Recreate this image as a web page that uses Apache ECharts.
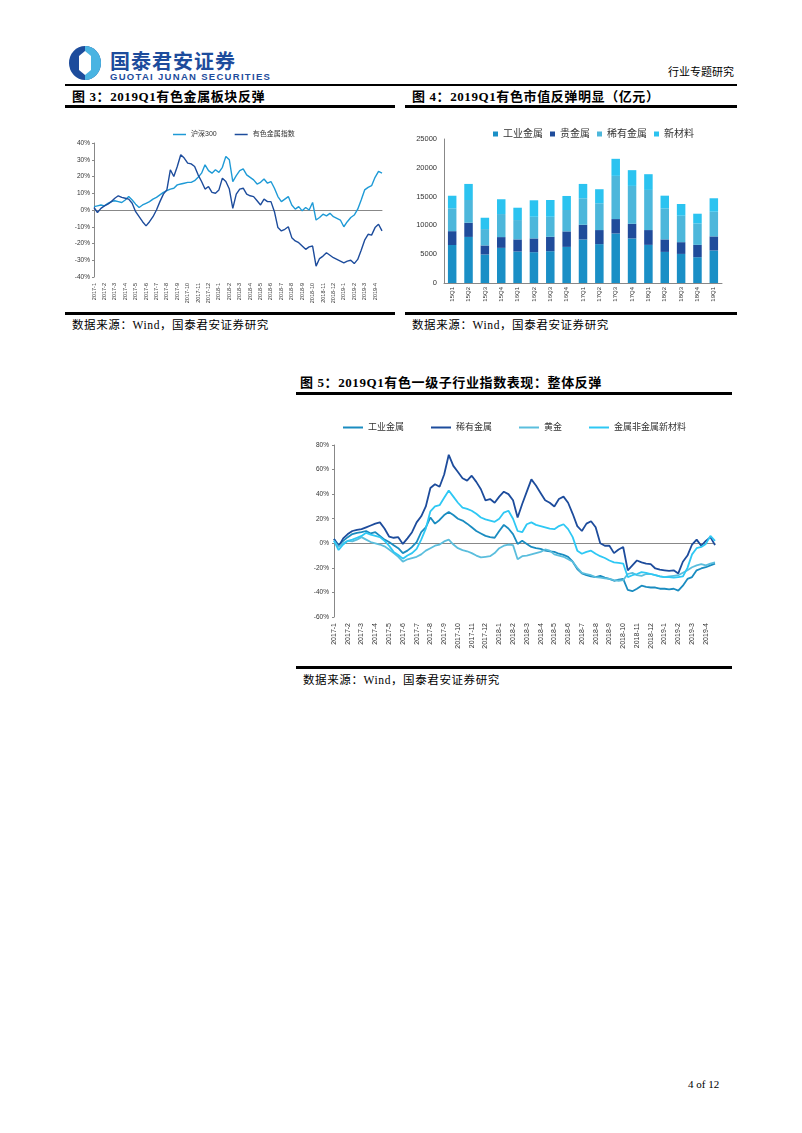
<!DOCTYPE html>
<html>
<head>
<meta charset="utf-8">
<title>有色金属 2019Q1</title>
<script src="https://cdn.jsdelivr.net/npm/echarts@6.0.0/dist/echarts.min.js"></script>
<style>
  body { margin: 0; background: #fff; }
  .page { position: relative; width: 802px; height: 1133px; overflow: hidden;
    font-family: "Liberation Serif", "Noto Sans CJK SC", serif; color: #000; }
  .page div { position: absolute; line-height: 1; white-space: nowrap; }
  .rule { background: #000; height: 2.5px; }
  .title { font-size: 13px; font-weight: bold; letter-spacing: 0.6px; }
  .src { font-size: 11.5px; letter-spacing: 0.6px; }
</style>
</head>
<body>
<div class="page">
  <svg style="position:absolute;left:68px;top:45px" width="34" height="36" viewBox="0 0 34 36">
    <ellipse cx="17" cy="18" rx="16" ry="17" fill="#1D4C9C"/>
    <path d="M17 1 A16 17 0 0 1 17 35 Z" fill="#4AB4E2"/>
    <polygon points="17,6 23,11 23,25 17,30 11,25 11,11" fill="#fff"/>
  </svg>
  <div style="left:110px;top:46px;font:bold 20px 'Noto Sans CJK SC';color:#1D4C9C;letter-spacing:1px;">国泰君安证券</div>
  <div style="left:110px;top:71px;font:bold 9.5px 'Liberation Sans';color:#1D4C9C;letter-spacing:1.3px;">GUOTAI JUNAN SECURITIES</div>
  <div style="left:668px;top:67px;font-size:11px;">行业专题研究</div>
  <div class="rule" style="left:65px;top:84px;width:672px;height:1.5px"></div>

  <div class="title" style="left:72px;top:90px;">图 3：2019Q1有色金属板块反弹</div>
  <div class="title" style="left:412px;top:90px;">图 4：2019Q1有色市值反弹明显（亿元）</div>
  <div class="rule" style="left:65px;top:105px;width:330px"></div>
  <div class="rule" style="left:405px;top:105px;width:332px"></div>

  <div id="chart3" style="left:62px;top:108px;width:336px;height:204px"></div>
  <div id="chart4" style="left:405px;top:108px;width:332px;height:204px"></div>

  <div class="rule" style="left:65px;top:312px;width:330px"></div>
  <div class="rule" style="left:405px;top:312px;width:332px"></div>
  <div class="src" style="left:72px;top:320px;">数据来源：Wind，国泰君安证券研究</div>
  <div class="src" style="left:412px;top:320px;">数据来源：Wind，国泰君安证券研究</div>

  <div class="title" style="left:300px;top:376px;">图 5：2019Q1有色一级子行业指数表现：整体反弹</div>
  <div class="rule" style="left:296px;top:392px;width:436px"></div>
  <div id="chart5" style="left:296px;top:396px;width:436px;height:270px"></div>
  <div class="rule" style="left:296px;top:666px;width:436px"></div>
  <div class="src" style="left:303px;top:675px;">数据来源：Wind，国泰君安证券研究</div>

  <div style="left:688px;top:1079px;font-size:11px;">4 of 12</div>
</div>

<script>
// 日期轴：每月 1、11、21 日各取一个点
var dates = [];
for (var y = 2017; y <= 2019; y++) {
  for (var m = 1; m <= 12; m++) {
    if (y == 2019 && m > 4) break;
    [1, 11, 21].forEach(function (d) { dates.push(y + '-' + m + '-' + d); });
  }
}

// 图3 沪深300 / 有色金属指数（%）
var hs300 = [2.0,2.5,3.0, 2.5,4.0,5.0, 5.5,5.0,4.5, 6.0,8.0,6.0, 3.5,1.5,3.0, 4.0,5.0,6.5,
  7.5,9.0,10.5, 11.5,12.5,13.0, 15.0,15.5,16.0, 16.5,16.5,17.5, 19.5,22.0,27.0, 23.5,22.0,24.0,
  22.5,25.5,32.0, 30.0,17.0,20.5, 23.5,24.5,21.0, 19.5,18.0,15.5, 16.5,18.5,16.0, 17.0,13.0,8.0,
  5.0,6.5,8.0, 3.0,0.5,2.0, -0.5,1.5,0.0, 4.5,-6.0,-4.5, -2.5,-3.5,-2.0, -4.0,-5.0,-6.0,
  -10.0,-7.0,-4.5, -3.0,0.5,6.0, 12.0,13.5,14.5, 19.5,23.0,22.0];
var metalIndex = [1.5,-1.5,1.0, 2.5,3.5,5.0, 7.0,8.5,7.5, 7.0,6.5,4.0, -1.0,-4.0,-7.0, -9.5,-7.0,-4.0,
  0.0,5.0,9.5, 12.0,24.0,20.0, 26.0,33.0,31.0, 28.0,27.5,26.0, 21.0,17.0,12.5, 14.0,10.5,10.0,
  12.0,19.0,17.0, 12.5,1.0,9.5, 12.5,13.0,9.5, 8.5,8.0,5.5, 3.0,6.5,5.0, 5.0,-1.0,-10.5,
  -12.5,-11.5,-10.0, -16.5,-18.5,-19.5, -21.5,-23.5,-22.0, -21.5,-33.5,-29.0, -27.5,-25.5,-27.0, -28.5,-29.5,-30.5,
  -31.5,-30.5,-30.0, -32.0,-29.5,-24.0, -18.0,-14.5,-15.0, -10.5,-8.5,-12.5];

// 图4 市值（亿元）
var quarters = ['15Q1','15Q2','15Q3','15Q4','16Q1','16Q2','16Q3','16Q4','17Q1','17Q2','17Q3','17Q4','18Q1','18Q2','18Q3','18Q4','19Q1'];
var industrialCap = [6600,8000,4950,6100,5470,5350,5520,6270,7560,6750,8600,7740,6620,5400,5050,4480,5650];
var preciousCap = [2400,2460,1570,1870,2100,2390,2500,2690,2550,2440,2500,2540,2570,2170,2040,2140,2440];
var rareCap = [3970,3950,2840,4000,3360,3760,3480,3710,4600,4650,7500,6580,6970,5400,4590,3730,4290];
var newMatCap = [2180,2790,1970,2570,2140,2860,2910,2440,2490,2440,2960,2730,2730,2190,2040,1680,2330];

// 图5 一级子行业指数（%）
var industrialIdx = [3.5,-1.5,2.0, 5.0,7.5,8.5, 9.0,10.0,8.0, 9.0,6.0,3.0, 1.0,-1.5,-4.0, -8.0,-6.0,-3.0,
  1.0,9.0,13.0, 21.0,16.0,19.0, 23.0,25.5,23.0, 20.0,18.5,16.0, 13.0,10.0,8.0, 6.0,5.0,4.5,
  10.0,15.0,12.0, 7.5,-0.5,2.0, -0.5,-3.0,-4.0, -4.5,-6.0,-6.5, -7.0,-8.5,-9.5, -11.0,-15.0,-21.0,
  -24.5,-26.0,-27.0, -27.5,-26.5,-28.0, -29.0,-30.5,-29.5, -29.0,-38.0,-39.0, -37.0,-34.5,-35.5, -36.0,-36.0,-37.0,
  -37.0,-37.5,-37.0, -38.5,-34.5,-29.0, -27.5,-22.0,-20.5, -19.5,-18.0,-16.5];
var rareIdx = [3.5,-2.5,4.0, 7.5,10.0,11.0, 11.5,13.0,14.5, 16.0,17.0,12.0, 5.5,4.5,5.0, -0.5,4.0,9.0,
  17.0,22.0,30.0, 45.0,48.0,46.0, 56.0,72.0,63.0, 58.0,53.0,51.0, 55.0,50.0,44.0, 35.0,36.0,33.0,
  38.0,42.0,40.0, 35.0,21.0,32.0, 42.0,52.0,47.0, 41.0,35.0,33.0, 30.0,36.0,38.0, 33.0,24.0,14.0,
  10.0,16.0,18.0, 13.0,0.0,-2.0, -2.0,-8.0,-5.0, -3.0,-22.0,-18.0, -14.0,-15.5,-16.5, -17.0,-20.5,-21.5,
  -22.0,-22.5,-22.0, -24.5,-15.0,-10.0, -1.0,3.0,-2.0, 2.0,5.0,-1.5];
var goldIdx = [2.0,-3.0,0.0, 2.0,1.5,3.0, 5.0,3.0,1.0, 0.0,-1.0,-2.5, -5.0,-8.0,-11.0, -15.0,-13.0,-12.0,
  -11.0,-9.0,-6.0, -4.0,-2.0,-1.0, 1.5,3.0,-1.0, -4.0,-5.5,-6.5, -8.0,-10.0,-11.5, -11.0,-10.5,-8.0,
  -4.0,-2.0,-1.0, -1.5,-13.0,-10.5, -10.0,-9.0,-8.0, -7.0,-5.0,-6.0, -9.0,-10.0,-11.0, -13.0,-15.0,-20.0,
  -24.0,-25.0,-26.0, -27.5,-28.0,-28.5, -29.0,-30.0,-30.5, -30.0,-25.0,-24.0, -26.0,-26.5,-25.0, -25.0,-26.0,-27.0,
  -27.5,-27.0,-26.5, -26.0,-24.0,-22.0, -19.5,-18.0,-17.0, -18.0,-16.5,-15.5];
var newMatIdx = [2.0,-5.5,-1.0, 2.0,3.0,4.5, 6.0,8.5,7.0, 6.0,5.0,2.0, -2.0,-7.0,-9.5, -12.5,-10.0,-8.0,
  -4.5,3.0,12.0, 26.0,30.0,31.0, 37.0,43.0,38.0, 33.0,29.0,28.0, 26.5,24.0,21.0, 19.5,18.5,17.5,
  20.0,25.0,26.5, 20.0,10.0,9.0, 15.5,17.0,15.0, 14.0,13.0,12.0, 11.5,14.0,15.5, 11.5,5.0,-6.0,
  -8.5,-7.0,-6.0, -8.5,-10.5,-12.0, -14.0,-15.5,-16.0, -16.5,-27.5,-26.0, -25.0,-23.5,-24.0, -25.0,-26.0,-27.0,
  -27.5,-27.5,-28.0, -27.5,-27.0,-20.0, -9.0,-4.0,-3.0, -0.5,6.0,2.0];

var baseFont = 'Liberation Sans, Noto Sans CJK SC, sans-serif';
function isMonthStart(index, value) { return value.split('-')[2] === '1'; }
function monthLabel(value) { var p = value.split('-'); return p[0] + '-' + p[1]; }

// 时间序列折线图的坐标轴（底部月份标签 + 0 轴线）
function timeAxes(fontSize, margin) {
  return [{
    type: 'category', data: dates, boundaryGap: false,
    axisLine: { show: false, onZero: false },
    axisTick: { show: false },
    axisLabel: { interval: isMonthStart, formatter: monthLabel, rotate: 90,
      fontSize: fontSize, color: '#333', margin: margin, fontFamily: baseFont }
  }, {
    type: 'category', data: dates, boundaryGap: false, position: 'bottom',
    axisLine: { onZero: true, lineStyle: { color: '#888', width: 1 } },
    axisTick: { show: false }, axisLabel: { show: false }
  }];
}
function lineSeries(name, data, color, width) {
  return { name: name, type: 'line', data: data, showSymbol: false, symbol: 'none',
    lineStyle: { color: color, width: width }, itemStyle: { color: color } };
}

// 图3
var chart3 = echarts.init(document.getElementById('chart3'));
chart3.setOption({
  animation: false,
  textStyle: { fontFamily: baseFont },
  legend: { left: 106, top: 18, icon: 'rect', itemWidth: 13, itemHeight: 1.5, itemGap: 18,
    textStyle: { fontSize: 7, color: '#333' }, data: ['沪深300', '有色金属指数'] },
  grid: { left: 32, right: 16, top: 35, bottom: 35 },
  xAxis: timeAxes(5.5, 6),
  yAxis: { type: 'value', min: -40, max: 40, interval: 10,
    axisLine: { show: true, lineStyle: { color: '#888' } },
    axisTick: { show: true, length: 2, lineStyle: { color: '#888' } },
    splitLine: { show: false },
    axisLabel: { formatter: '{value}%', fontSize: 6.5, color: '#333', margin: 4 } },
  series: [
    lineSeries('沪深300', hs300, '#1E9AD6', 1.4),
    lineSeries('有色金属指数', metalIndex, '#1D4C9C', 1.4)
  ]
});

// 图4
var chart4 = echarts.init(document.getElementById('chart4'));
function barSeries(name, data, color) {
  return { name: name, type: 'bar', stack: 'cap', data: data, barWidth: '52%',
    itemStyle: { color: color } };
}
chart4.setOption({
  animation: false,
  textStyle: { fontFamily: baseFont },
  legend: { left: 83, top: 16, icon: 'rect', itemWidth: 5, itemHeight: 5, itemGap: 7,
    textStyle: { fontSize: 10, color: '#333' } },
  grid: { left: 39, right: 15, top: 31, bottom: 29 },
  xAxis: { type: 'category', data: quarters,
    axisLine: { lineStyle: { color: '#888' } }, axisTick: { show: false },
    axisLabel: { interval: 0, rotate: 90, fontSize: 6, color: '#333', margin: 4 } },
  yAxis: { type: 'value', min: 0, max: 25000, interval: 5000,
    axisLine: { show: true, lineStyle: { color: '#888' } }, axisTick: { show: false },
    splitLine: { show: false },
    axisLabel: { fontSize: 7.5, color: '#333', margin: 7,
      formatter: function (v) { return String(v); } } },
  series: [
    barSeries('工业金属', industrialCap, '#1A8FC6'),
    barSeries('贵金属', preciousCap, '#1F4C9B'),
    barSeries('稀有金属', rareCap, '#4DB7DB'),
    barSeries('新材料', newMatCap, '#2BC3F0')
  ]
});

// 图5
var chart5 = echarts.init(document.getElementById('chart5'));
chart5.setOption({
  animation: false,
  textStyle: { fontFamily: baseFont },
  legend: { left: 42, top: 22, icon: 'rect', itemWidth: 20, itemHeight: 2, itemGap: 27,
    textStyle: { fontSize: 9, color: '#333' } },
  grid: { left: 38, right: 17, top: 49, bottom: 49 },
  xAxis: timeAxes(7, 6),
  yAxis: { type: 'value', min: -60, max: 80, interval: 20,
    axisLine: { show: true, lineStyle: { color: '#888' } },
    axisTick: { show: true, length: 2, lineStyle: { color: '#888' } },
    splitLine: { show: false },
    axisLabel: { formatter: '{value}%', fontSize: 6.5, color: '#333', margin: 5 } },
  series: [
    lineSeries('工业金属', industrialIdx, '#1A8CC0', 1.8),
    lineSeries('稀有金属', rareIdx, '#1D4C9C', 1.8),
    lineSeries('黄金', goldIdx, '#5BBEDD', 1.8),
    lineSeries('金属非金属新材料', newMatIdx, '#2EC8F4', 1.8)
  ]
});
</script>
</body>
</html>
